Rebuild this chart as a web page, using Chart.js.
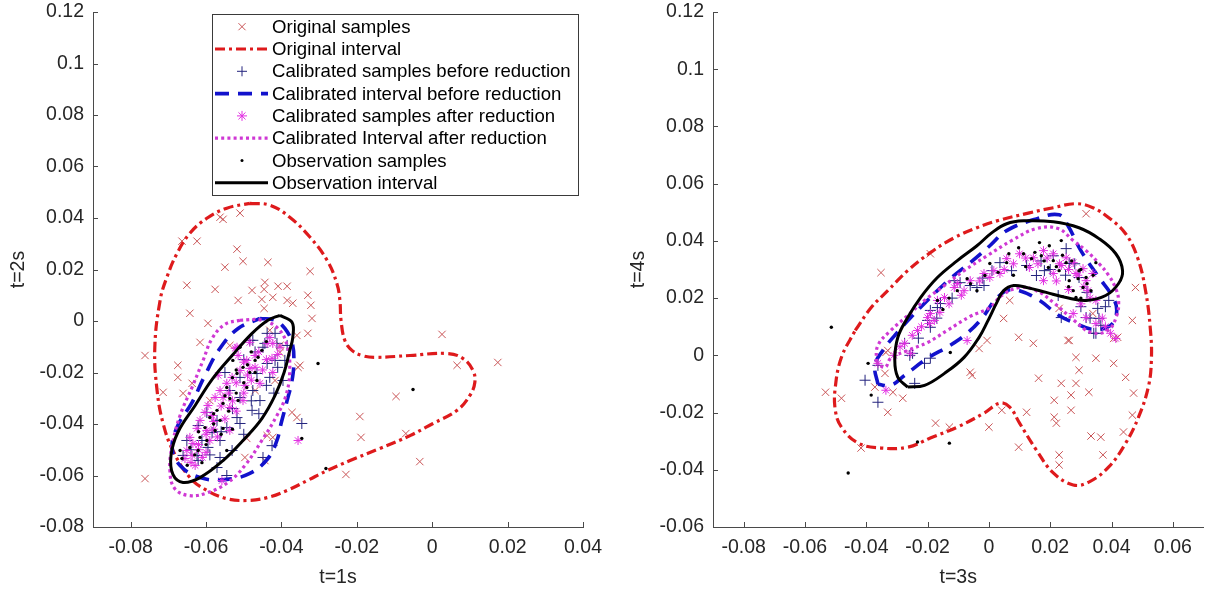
<!DOCTYPE html>
<html><head><meta charset="utf-8">
<script src="https://cdn.jsdelivr.net/npm/chart.js@4.4.1/dist/chart.umd.min.js"></script>
<style>
html,body{margin:0;padding:0;background:#fff;}
#wrap{position:relative;width:1210px;height:591px;overflow:hidden;background:#fff;}
canvas{position:absolute;left:0;top:0;}
</style></head><body>
<div id="wrap"><canvas id="c1" width="1210" height="591"></canvas><canvas id="c2" width="1210" height="591"></canvas></div>
<script>
// ---------- labels ----------
const seriesLabels = ['Original samples','Original interval','Calibrated samples before reduction','Calibrated interval before reduction','Calibrated samples after reduction','Calibrated Interval after reduction','Observation samples','Observation interval'];

// ---------- panel A : t=1s vs t=2s ----------
const A_xRange = [-0.09, 0.04];
const A_yRange = [-0.08, 0.12];
const A_xTicks = [-0.08,-0.06,-0.04,-0.02,0,0.02,0.04];
const A_xTickLabels = ['-0.08','-0.06','-0.04','-0.02','0','0.02','0.04'];
const A_yTicks = [-0.08,-0.06,-0.04,-0.02,0,0.02,0.04,0.06,0.08,0.1,0.12];
const A_yTickLabels = ['-0.08','-0.06','-0.04','-0.02','0','0.02','0.04','0.06','0.08','0.1','0.12'];

const A_origSamples = [[-0.0510,0.0419],[-0.0563,0.0403],[-0.0555,0.0395],[-0.0664,0.0310],[-0.0624,0.0310],[-0.0518,0.0279],[-0.0502,0.0232],[-0.0550,0.0209],[-0.0436,0.0228],[-0.0324,0.0193],[-0.0651,0.0139],[-0.0576,0.0123],[-0.0478,0.0119],[-0.0444,0.0150],[-0.0446,0.0123],[-0.0409,0.0135],[-0.0385,0.0135],[-0.0515,0.0080],[-0.0452,0.0084],[-0.0423,0.0092],[-0.0385,0.0080],[-0.0370,0.0069],[-0.0330,0.0100],[-0.0322,0.0061],[-0.0643,0.0030],[-0.0446,0.0049],[-0.0595,-0.0009],[-0.0319,0.0010],[-0.0616,-0.0083],[-0.0359,-0.0056],[-0.0330,-0.0048],[-0.0762,-0.0134],[-0.0675,-0.0172],[-0.0675,-0.0219],[-0.0637,-0.0242],[-0.0714,-0.0277],[-0.0661,-0.0281],[-0.0356,-0.0180],[-0.0372,-0.0355],[-0.0359,-0.0375],[-0.0438,-0.0445],[-0.0423,-0.0452],[-0.0492,-0.0456],[-0.0497,-0.0530],[-0.0762,-0.0612],[0.0026,-0.0052],[0.0174,-0.0161],[0.0066,-0.0172],[-0.0096,-0.0293],[-0.0192,-0.0371],[-0.0189,-0.0452],[-0.0070,-0.0437],[-0.0033,-0.0546],[-0.0229,-0.0596],[-0.0351,-0.0172],[-0.0431,-0.0036],[-0.0404,-0.0095],[-0.0537,-0.0095],[-0.0470,-0.0270],[-0.0417,-0.0231],[-0.0590,-0.0309],[-0.0444,-0.0542],[-0.0404,-0.0122]];
const A_origInterval = [[-0.0484,0.0457],[-0.0431,0.0450],[-0.0378,0.0403],[-0.0324,0.0325],[-0.0279,0.0236],[-0.0253,0.0146],[-0.0245,0.0080],[-0.0242,0.0003],[-0.0232,-0.0075],[-0.0213,-0.0114],[-0.0186,-0.0134],[-0.0152,-0.0141],[-0.0059,-0.0134],[0.0039,-0.0126],[0.0081,-0.0145],[0.0108,-0.0192],[0.0113,-0.0239],[0.0100,-0.0289],[0.0066,-0.0347],[0.0002,-0.0398],[-0.0059,-0.0445],[-0.0139,-0.0495],[-0.0218,-0.0542],[-0.0279,-0.0581],[-0.0332,-0.0620],[-0.0385,-0.0658],[-0.0438,-0.0686],[-0.0492,-0.0697],[-0.0545,-0.0690],[-0.0598,-0.0658],[-0.0643,-0.0608],[-0.0688,-0.0503],[-0.0714,-0.0398],[-0.0730,-0.0270],[-0.0736,-0.0102],[-0.0722,0.0080],[-0.0704,0.0170],[-0.0677,0.0263],[-0.0643,0.0341],[-0.0598,0.0399],[-0.0545,0.0438],[-0.0484,0.0457]];
const A_calBeforeSamples = [[-0.0484,-0.0075],[-0.0444,-0.0087],[-0.0412,-0.0087],[-0.0417,-0.0153],[-0.0391,-0.0153],[-0.0438,-0.0165],[-0.0550,-0.0200],[-0.0510,-0.0219],[-0.0465,-0.0204],[-0.0431,-0.0219],[-0.0396,-0.0231],[-0.0537,-0.0270],[-0.0476,-0.0270],[-0.0510,-0.0297],[-0.0457,-0.0309],[-0.0478,-0.0347],[-0.0598,-0.0355],[-0.0571,-0.0386],[-0.0518,-0.0375],[-0.0621,-0.0406],[-0.0545,-0.0414],[-0.0510,-0.0398],[-0.0584,-0.0433],[-0.0611,-0.0464],[-0.0563,-0.0464],[-0.0651,-0.0464],[-0.0595,-0.0491],[-0.0531,-0.0503],[-0.0624,-0.0522],[-0.0563,-0.0530],[-0.0661,-0.0522],[-0.0449,-0.0530],[-0.0425,-0.0484],[-0.0346,-0.0398],[-0.0545,-0.0600],[-0.0621,-0.0542],[-0.0571,-0.0569],[-0.0438,-0.0048],[-0.0417,-0.0048],[-0.0476,-0.0075],[-0.0385,-0.0095],[-0.0449,-0.0102],[-0.0470,-0.0120],[-0.0500,-0.0150],[-0.0440,-0.0250],[-0.0480,-0.0310],[-0.0530,-0.0340],[-0.0560,-0.0430],[-0.0590,-0.0520],[-0.0640,-0.0500],[-0.0500,-0.0440],[-0.0460,-0.0360],[-0.0420,-0.0280],[-0.0410,-0.0180]];
const A_calBeforeInterval = [[-0.0457,0.0010],[-0.0417,0.0003],[-0.0391,-0.0029],[-0.0372,-0.0083],[-0.0367,-0.0153],[-0.0372,-0.0231],[-0.0385,-0.0309],[-0.0401,-0.0398],[-0.0412,-0.0464],[-0.0436,-0.0534],[-0.0484,-0.0592],[-0.0550,-0.0616],[-0.0616,-0.0608],[-0.0669,-0.0561],[-0.0690,-0.0491],[-0.0675,-0.0406],[-0.0637,-0.0316],[-0.0603,-0.0211],[-0.0563,-0.0106],[-0.0515,-0.0029],[-0.0457,0.0010]];
const A_calAfterSamples = [[-0.0523,-0.0106],[-0.0515,-0.0134],[-0.0492,-0.0153],[-0.0484,-0.0184],[-0.0510,-0.0192],[-0.0531,-0.0219],[-0.0545,-0.0242],[-0.0563,-0.0270],[-0.0576,-0.0297],[-0.0555,-0.0297],[-0.0595,-0.0328],[-0.0603,-0.0355],[-0.0584,-0.0367],[-0.0616,-0.0386],[-0.0624,-0.0417],[-0.0598,-0.0425],[-0.0643,-0.0452],[-0.0635,-0.0476],[-0.0651,-0.0503],[-0.0637,-0.0522],[-0.0656,-0.0534],[-0.0629,-0.0561],[-0.0558,-0.0620],[-0.0356,-0.0464],[-0.0423,-0.0200],[-0.0457,-0.0242],[-0.0502,-0.0309],[-0.0537,-0.0336],[-0.0425,-0.0145],[-0.0404,-0.0102],[-0.0438,-0.0087],[-0.0484,-0.0083],[-0.0431,-0.0064],[-0.0423,-0.0087],[-0.0518,-0.0102],[-0.0470,-0.0134],[-0.0497,-0.0250],[-0.0568,-0.0211],[-0.0590,-0.0464],[-0.0537,-0.0425],[-0.0500,-0.0160],[-0.0470,-0.0180],[-0.0520,-0.0240],[-0.0480,-0.0230],[-0.0540,-0.0280],[-0.0500,-0.0280],[-0.0560,-0.0330],[-0.0520,-0.0350],[-0.0580,-0.0390],[-0.0550,-0.0380],[-0.0600,-0.0440],[-0.0570,-0.0450],[-0.0620,-0.0480],[-0.0600,-0.0510],[-0.0640,-0.0550],[-0.0610,-0.0530],[-0.0460,-0.0120],[-0.0440,-0.0150],[-0.0490,-0.0210],[-0.0530,-0.0310],[-0.0580,-0.0420],[-0.0620,-0.0500],[-0.0450,-0.0190],[-0.0410,-0.0130]];
const A_calAfterInterval = [[-0.0510,0.0003],[-0.0452,0.0003],[-0.0409,-0.0029],[-0.0385,-0.0095],[-0.0378,-0.0192],[-0.0388,-0.0289],[-0.0412,-0.0367],[-0.0452,-0.0464],[-0.0497,-0.0561],[-0.0542,-0.0627],[-0.0595,-0.0666],[-0.0643,-0.0678],[-0.0683,-0.0651],[-0.0696,-0.0581],[-0.0690,-0.0484],[-0.0669,-0.0367],[-0.0635,-0.0250],[-0.0608,-0.0153],[-0.0584,-0.0068],[-0.0550,-0.0013],[-0.0510,0.0003]];
const A_obsSamples = [[-0.0510,-0.0102],[-0.0462,-0.0141],[-0.0502,-0.0180],[-0.0484,-0.0200],[-0.0518,-0.0204],[-0.0465,-0.0231],[-0.0545,-0.0258],[-0.0537,-0.0301],[-0.0555,-0.0320],[-0.0515,-0.0309],[-0.0571,-0.0347],[-0.0590,-0.0375],[-0.0563,-0.0386],[-0.0603,-0.0414],[-0.0576,-0.0425],[-0.0555,-0.0417],[-0.0616,-0.0452],[-0.0598,-0.0464],[-0.0643,-0.0491],[-0.0669,-0.0503],[-0.0664,-0.0534],[-0.0621,-0.0503],[-0.0545,-0.0503],[-0.0611,-0.0550],[-0.0470,-0.0153],[-0.0452,-0.0114],[-0.0529,-0.0153],[-0.0492,-0.0258],[-0.0303,-0.0165],[-0.0051,-0.0266],[-0.0282,-0.0573],[-0.0346,-0.0456],[-0.0490,-0.0170],[-0.0470,-0.0200],[-0.0530,-0.0220],[-0.0500,-0.0240],[-0.0520,-0.0280],[-0.0550,-0.0290],[-0.0540,-0.0350],[-0.0580,-0.0400],[-0.0560,-0.0440],[-0.0600,-0.0480],[-0.0630,-0.0520],[-0.0650,-0.0560],[-0.0480,-0.0120],[-0.0440,-0.0080],[-0.0520,-0.0190],[-0.0580,-0.0360],[-0.0620,-0.0430],[-0.0530,-0.0420]];
const A_obsInterval = [[-0.0404,0.0022],[-0.0372,-0.0005],[-0.0370,-0.0064],[-0.0378,-0.0114],[-0.0393,-0.0200],[-0.0417,-0.0289],[-0.0452,-0.0379],[-0.0497,-0.0456],[-0.0555,-0.0542],[-0.0616,-0.0608],[-0.0661,-0.0627],[-0.0688,-0.0596],[-0.0693,-0.0522],[-0.0675,-0.0433],[-0.0629,-0.0328],[-0.0582,-0.0223],[-0.0531,-0.0134],[-0.0478,-0.0048],[-0.0436,0.0003],[-0.0404,0.0022]];

// ---------- panel B : t=3s vs t=4s ----------
const B_xRange = [-0.09, 0.07];
const B_yRange = [-0.06, 0.12];
const B_xTicks = [-0.08,-0.06,-0.04,-0.02,0,0.02,0.04,0.06];
const B_xTickLabels = ['-0.08','-0.06','-0.04','-0.02','0','0.02','0.04','0.06'];
const B_yTicks = [-0.06,-0.04,-0.02,0,0.02,0.04,0.06,0.08,0.1,0.12];
const B_yTickLabels = ['-0.06','-0.04','-0.02','0','0.02','0.04','0.06','0.08','0.1','0.12'];

const B_origSamples = [[-0.0533,-0.0129],[-0.0417,-0.0324],[-0.0330,-0.0199],[-0.0281,-0.0150],[-0.0313,-0.0129],[-0.0372,-0.0111],[-0.0339,-0.0063],[-0.0330,0.0017],[-0.0174,-0.0237],[-0.0129,-0.0251],[0.0000,-0.0251],[0.0042,-0.0192],[0.0123,-0.0199],[0.0097,-0.0321],[-0.0061,-0.0059],[-0.0055,-0.0070],[-0.0032,0.0024],[-0.0006,0.0052],[0.0097,0.0063],[0.0145,0.0042],[0.0162,-0.0080],[0.0236,-0.0098],[0.0284,-0.0098],[0.0294,-0.0052],[0.0284,-0.0007],[0.0262,0.0052],[0.0349,-0.0010],[0.0407,-0.0028],[0.0446,-0.0077],[0.0326,-0.0129],[0.0268,-0.0139],[0.0213,-0.0157],[0.0268,-0.0192],[0.0213,-0.0216],[0.0220,-0.0237],[0.0472,-0.0132],[0.0468,-0.0209],[0.0439,-0.0268],[0.0365,-0.0286],[0.0333,-0.0282],[0.0372,-0.0348],[0.0229,-0.0348],[0.0229,-0.0383],[0.0420,0.0063],[0.0317,0.0495],[0.0478,0.0237],[0.0468,0.0122],[0.0258,0.0052],[0.0339,0.0146],[0.0407,0.0059],[0.0068,0.0192],[0.0048,0.0129],[0.0229,0.0164],[-0.0352,0.0289],[-0.0191,0.0355],[-0.0336,0.0010],[-0.0481,-0.0150]];
const B_origInterval = [[-0.0436,0.0087],[-0.0384,0.0167],[-0.0330,0.0226],[-0.0265,0.0296],[-0.0191,0.0359],[-0.0113,0.0411],[-0.0039,0.0446],[0.0026,0.0470],[0.0132,0.0498],[0.0210,0.0516],[0.0284,0.0530],[0.0339,0.0516],[0.0391,0.0481],[0.0446,0.0425],[0.0485,0.0341],[0.0511,0.0226],[0.0527,0.0087],[0.0530,-0.0017],[0.0520,-0.0111],[0.0488,-0.0216],[0.0446,-0.0307],[0.0391,-0.0390],[0.0326,-0.0443],[0.0275,-0.0453],[0.0210,-0.0411],[0.0155,-0.0331],[0.0100,-0.0237],[0.0068,-0.0181],[0.0036,-0.0167],[-0.0016,-0.0202],[-0.0103,-0.0251],[-0.0191,-0.0289],[-0.0265,-0.0321],[-0.0352,-0.0324],[-0.0426,-0.0307],[-0.0481,-0.0251],[-0.0501,-0.0192],[-0.0501,-0.0111],[-0.0481,-0.0007],[-0.0436,0.0087]];
const B_calBeforeSamples = [[-0.0113,0.0261],[-0.0094,0.0254],[-0.0061,0.0244],[-0.0039,0.0237],[-0.0016,0.0244],[-0.0191,0.0157],[-0.0168,0.0167],[-0.0158,0.0181],[-0.0200,0.0122],[-0.0191,0.0098],[-0.0275,0.0042],[-0.0249,0.0007],[-0.0210,-0.0028],[-0.0191,-0.0010],[-0.0362,-0.0035],[-0.0404,-0.0087],[-0.0362,-0.0164],[-0.0258,0.0000],[-0.0242,-0.0098],[0.0342,0.0077],[0.0036,0.0324],[0.0074,0.0296],[0.0155,0.0279],[0.0181,0.0296],[0.0252,0.0373],[0.0226,0.0209],[0.0317,0.0132],[0.0355,0.0164],[0.0359,0.0129],[0.0236,0.0132],[0.0349,0.0077],[0.0391,0.0192],[0.0262,0.0321],[0.0294,0.0272],[0.0365,0.0105],[0.0123,0.0314],[0.0010,0.0296],[0.0210,0.0348],[0.0280,0.0320],[0.0250,0.0280],[0.0320,0.0220],[0.0300,0.0170],[0.0200,0.0300],[0.0170,0.0330],[-0.0020,0.0270],[-0.0120,0.0200],[-0.0170,0.0130],[-0.0230,0.0060],[0.0380,0.0170],[0.0330,0.0130]];
const B_calBeforeInterval = [[-0.0362,-0.0101],[-0.0372,-0.0035],[-0.0346,0.0017],[-0.0307,0.0070],[-0.0255,0.0132],[-0.0191,0.0202],[-0.0126,0.0268],[-0.0061,0.0324],[0.0003,0.0383],[0.0058,0.0436],[0.0155,0.0477],[0.0229,0.0491],[0.0258,0.0453],[0.0300,0.0366],[0.0359,0.0272],[0.0401,0.0209],[0.0417,0.0157],[0.0397,0.0105],[0.0339,0.0091],[0.0284,0.0111],[0.0229,0.0139],[0.0165,0.0192],[0.0100,0.0226],[0.0058,0.0226],[0.0019,0.0192],[-0.0023,0.0129],[-0.0071,0.0077],[-0.0126,0.0035],[-0.0200,-0.0010],[-0.0275,-0.0070],[-0.0320,-0.0105],[-0.0362,-0.0101]];
const B_calAfterSamples = [[-0.0113,0.0237],[-0.0081,0.0226],[-0.0145,0.0202],[-0.0168,0.0192],[-0.0191,0.0146],[-0.0200,0.0132],[-0.0178,0.0122],[-0.0194,0.0111],[-0.0275,0.0042],[-0.0255,0.0007],[-0.0362,-0.0028],[-0.0071,0.0052],[-0.0016,0.0286],[0.0016,0.0296],[-0.0061,0.0261],[0.0058,0.0338],[0.0100,0.0355],[0.0145,0.0341],[0.0178,0.0366],[0.0210,0.0355],[0.0252,0.0341],[0.0275,0.0324],[0.0307,0.0303],[0.0317,0.0261],[0.0284,0.0286],[0.0210,0.0286],[0.0339,0.0286],[0.0323,0.0226],[0.0275,0.0146],[0.0317,0.0132],[0.0349,0.0111],[0.0397,0.0077],[0.0132,0.0307],[0.0178,0.0261],[0.0003,0.0272],[0.0036,0.0286],[-0.0336,-0.0122],[0.0414,0.0059],[-0.0103,0.0251],[-0.0233,0.0087],[0.0236,0.0314],[0.0349,0.0192],[0.0050,0.0300],[0.0080,0.0320],[0.0120,0.0340],[0.0160,0.0320],[0.0190,0.0340],[0.0230,0.0320],[0.0260,0.0300],[0.0290,0.0280],[0.0310,0.0240],[0.0330,0.0200],[0.0300,0.0180],[0.0260,0.0230],[0.0220,0.0260],[-0.0030,0.0260],[-0.0090,0.0210],[-0.0130,0.0180],[-0.0160,0.0150],[-0.0220,0.0100],[-0.0250,0.0070],[-0.0290,0.0030],[-0.0310,0.0000],[0.0370,0.0130],[0.0380,0.0100]];
const B_calAfterInterval = [[-0.0368,-0.0024],[-0.0362,0.0035],[-0.0320,0.0087],[-0.0265,0.0139],[-0.0210,0.0192],[-0.0145,0.0244],[-0.0081,0.0296],[-0.0006,0.0348],[0.0074,0.0401],[0.0155,0.0443],[0.0226,0.0443],[0.0275,0.0401],[0.0317,0.0366],[0.0359,0.0321],[0.0391,0.0279],[0.0414,0.0233],[0.0423,0.0192],[0.0417,0.0139],[0.0388,0.0087],[0.0333,0.0080],[0.0278,0.0122],[0.0210,0.0185],[0.0155,0.0226],[0.0100,0.0237],[0.0042,0.0209],[0.0003,0.0167],[-0.0061,0.0136],[-0.0136,0.0087],[-0.0200,0.0045],[-0.0265,0.0017],[-0.0320,-0.0010],[-0.0339,-0.0042],[-0.0368,-0.0024]];
const B_obsSamples = [[0.0097,0.0376],[0.0165,0.0394],[0.0197,0.0383],[0.0236,0.0401],[0.0113,0.0355],[0.0065,0.0355],[0.0058,0.0324],[0.0210,0.0331],[0.0229,0.0296],[0.0252,0.0324],[0.0262,0.0261],[0.0291,0.0268],[0.0275,0.0226],[0.0307,0.0237],[0.0317,0.0272],[0.0349,0.0324],[0.0294,0.0296],[0.0284,0.0202],[0.0194,0.0307],[-0.0039,0.0226],[-0.0071,0.0268],[-0.0013,0.0279],[-0.0103,0.0226],[0.0003,0.0321],[-0.0514,0.0098],[-0.0394,-0.0028],[-0.0384,-0.0139],[-0.0129,-0.0307],[-0.0233,-0.0303],[-0.0459,-0.0411],[-0.0126,0.0010],[0.0139,0.0338],[0.0333,0.0226],[0.0171,0.0348],[-0.0168,0.0192],[0.0150,0.0360],[0.0180,0.0330],[0.0240,0.0350],[0.0270,0.0330],[0.0300,0.0300],[0.0320,0.0250],[0.0260,0.0240],[0.0220,0.0310],[0.0120,0.0310],[0.0080,0.0280],[0.0030,0.0290],[-0.0060,0.0250],[-0.0130,0.0200],[-0.0150,0.0160],[0.0340,0.0280],[0.0300,0.0200]];
const B_obsInterval = [[-0.0265,-0.0111],[-0.0297,-0.0077],[-0.0307,-0.0017],[-0.0297,0.0063],[-0.0265,0.0132],[-0.0223,0.0202],[-0.0168,0.0272],[-0.0103,0.0331],[-0.0039,0.0383],[0.0010,0.0429],[0.0058,0.0460],[0.0113,0.0470],[0.0210,0.0467],[0.0294,0.0446],[0.0359,0.0408],[0.0414,0.0355],[0.0436,0.0296],[0.0423,0.0251],[0.0381,0.0209],[0.0317,0.0192],[0.0252,0.0202],[0.0187,0.0220],[0.0123,0.0237],[0.0081,0.0244],[0.0048,0.0226],[0.0026,0.0185],[-0.0006,0.0115],[-0.0032,0.0063],[-0.0081,-0.0007],[-0.0145,-0.0063],[-0.0210,-0.0105],[-0.0265,-0.0111]];

// ---------- styles (not data) ----------
const FONT = '"Liberation Sans", Arial, Helvetica, sans-serif';
const styles = [
  {kind:'pt', style:'crossRot', r:5.2, color:'#c95456', bw:1},
  {kind:'ln', color:'#de1a1c', dash:[10,4,3,4], w:3.2},
  {kind:'pt', style:'cross', r:5.5, color:'#24247e', bw:1},
  {kind:'ln', color:'#1212cc', dash:[14,9], w:3.6},
  {kind:'pt', style:'star', r:4.5, color:'#e22ee2', bw:1},
  {kind:'ln', color:'#cf38d4', dash:[3,3.2], w:3.2},
  {kind:'pt', style:'circle', r:1.7, color:'#000000', bw:0},
  {kind:'ln', color:'#000000', dash:[], w:3}
];

function makeDatasets(series){
  return series.map((arr,i)=>{
    const s = styles[i];
    const base = {label: seriesLabels[i], data: arr.map(p=>({x:p[0], y:p[1]})), order: series.length - i};
    if (s.kind === 'pt') {
      return Object.assign(base, {showLine:false, pointStyle:s.style, pointRadius:s.r, pointHoverRadius:s.r,
        pointBorderColor:s.color, pointBackgroundColor:s.color, pointBorderWidth:s.bw,
        borderColor:s.color, backgroundColor:s.color});
    }
    return Object.assign(base, {showLine:true, pointRadius:0, pointHoverRadius:0, borderColor:s.color,
      backgroundColor:s.color, borderWidth:s.w, borderDash:s.dash, tension:0.4, fill:false,
      borderJoinStyle:'round', borderCapStyle:'butt'});
  });
}

const innerTicks = {
  id:'innerTicks',
  afterDraw(chart){
    const ctx = chart.ctx, a = chart.chartArea, xs = chart.scales.x, ys = chart.scales.y;
    ctx.save(); ctx.strokeStyle = '#4a4a4a'; ctx.lineWidth = 1; ctx.beginPath();
    xs.ticks.forEach(t=>{ const px = Math.round(xs.getPixelForValue(t.value)) + 0.5; ctx.moveTo(px, a.bottom); ctx.lineTo(px, a.bottom - 5); });
    ys.ticks.forEach(t=>{ const py = Math.round(ys.getPixelForValue(t.value)) + 0.5; ctx.moveTo(a.left, py); ctx.lineTo(a.left + 5, py); });
    ctx.stroke(); ctx.restore();
  }
};

function drawMarker(ctx, s, x, y, r){
  ctx.strokeStyle = s.color; ctx.fillStyle = s.color; ctx.lineWidth = 1; ctx.beginPath();
  if (s.style === 'crossRot') { const d = r*0.707; ctx.moveTo(x-d,y-d); ctx.lineTo(x+d,y+d); ctx.moveTo(x+d,y-d); ctx.lineTo(x-d,y+d); ctx.stroke(); }
  else if (s.style === 'cross') { ctx.moveTo(x-r,y); ctx.lineTo(x+r,y); ctx.moveTo(x,y-r); ctx.lineTo(x,y+r); ctx.stroke(); }
  else if (s.style === 'star') { const d=r*0.707; ctx.moveTo(x-r,y); ctx.lineTo(x+r,y); ctx.moveTo(x,y-r); ctx.lineTo(x,y+r); ctx.moveTo(x-d,y-d); ctx.lineTo(x+d,y+d); ctx.moveTo(x+d,y-d); ctx.lineTo(x-d,y+d); ctx.stroke(); }
  else { ctx.arc(x,y,r,0,Math.PI*2); ctx.fill(); }
}

const legendBox = {
  id:'legendBox',
  afterDraw(chart, args, opts){
    if (!opts || !opts.show) return;
    const ctx = chart.ctx, a = chart.chartArea;
    const L = a.left + 119, T = a.top + 2, W = 366, H = 181, rowH = 22.3;
    ctx.save();
    ctx.fillStyle = '#fff'; ctx.fillRect(L, T, W, H);
    ctx.strokeStyle = '#3a3a3a'; ctx.lineWidth = 1; ctx.strokeRect(L + 0.5, T + 0.5, W, H);
    ctx.font = '18.6px ' + FONT; ctx.textBaseline = 'middle'; ctx.textAlign = 'left';
    chart.data.datasets.forEach((ds, i)=>{
      const s = styles[i]; const y = T + 12.7 + i*rowH;
      if (s.kind === 'ln') {
        ctx.strokeStyle = s.color; ctx.lineWidth = s.w; ctx.setLineDash(s.dash);
        ctx.beginPath(); ctx.moveTo(L + 3, y); ctx.lineTo(L + 56, y); ctx.stroke(); ctx.setLineDash([]);
      } else {
        drawMarker(ctx, s, L + 30, y, s.style==='circle' ? 1.5 : 5);
      }
      ctx.fillStyle = '#000'; ctx.fillText(ds.label, L + 60, y + 1);
    });
    ctx.restore();
  }
};

function buildChart(id, series, xRange, yRange, xTicks, xLabels, yTicks, yLabels, xTitle, yTitle, padLeft, padRight, showLegend){
  const tickFont = {family: FONT, size: 19.5};
  return new Chart(document.getElementById(id), {
    type:'scatter',
    data:{datasets: makeDatasets(series)},
    options:{
      responsive:false, animation:false, devicePixelRatio:1, events:[],
      layout:{padding:{left:padLeft, right:padRight, top:12, bottom:0}},
      plugins:{legend:{display:false}, tooltip:{enabled:false}, legendBox:{show:showLegend}},
      scales:{
        x:{type:'linear', min:xRange[0], max:xRange[1], bounds:'data',
          afterBuildTicks:s=>{ s.ticks = xTicks.map(v=>({value:v})); },
          afterFit:s=>{ s.height = 64; s.paddingLeft = 0; s.paddingRight = 0; s.paddingTop = 0; s.paddingBottom = 0; },
          ticks:{callback:(v,i)=>xLabels[i], font:tickFont, color:'#262626', padding:9, maxRotation:0, autoSkip:false},
          grid:{display:false, drawTicks:false},
          border:{display:true, color:'#4a4a4a', width:1},
          title:{display:true, text:xTitle, font:{family:FONT, size:19.5}, color:'#262626', padding:{top:0, bottom:2}}
        },
        y:{type:'linear', min:yRange[0], max:yRange[1], bounds:'data',
          afterBuildTicks:s=>{ s.ticks = yTicks.map(v=>({value:v})); },
          afterFit:s=>{ s.width = 93; s.paddingTop = 0; s.paddingBottom = 0; s.paddingLeft = 0; s.paddingRight = 0; },
          ticks:{callback:(v,i)=>yLabels[i], font:tickFont, color:'#262626', padding:9, autoSkip:false},
          grid:{display:false, drawTicks:false},
          border:{display:true, color:'#4a4a4a', width:1},
          title:{display:true, text:yTitle, font:{family:FONT, size:19.5}, color:'#262626', padding:{top:7, bottom:0}}
        }
      }
    },
    plugins:[innerTicks, legendBox]
  });
}

buildChart('c1',
  [A_origSamples, A_origInterval, A_calBeforeSamples, A_calBeforeInterval, A_calAfterSamples, A_calAfterInterval, A_obsSamples, A_obsInterval],
  A_xRange, A_yRange, A_xTicks, A_xTickLabels, A_yTicks, A_yTickLabels, 't=1s', 't=2s', 0, 627, true);
buildChart('c2',
  [B_origSamples, B_origInterval, B_calBeforeSamples, B_calBeforeInterval, B_calAfterSamples, B_calAfterInterval, B_obsSamples, B_obsInterval],
  B_xRange, B_yRange, B_xTicks, B_xTickLabels, B_yTicks, B_yTickLabels, 't=3s', 't=4s', 620, 2, false);
</script>
</body></html>
